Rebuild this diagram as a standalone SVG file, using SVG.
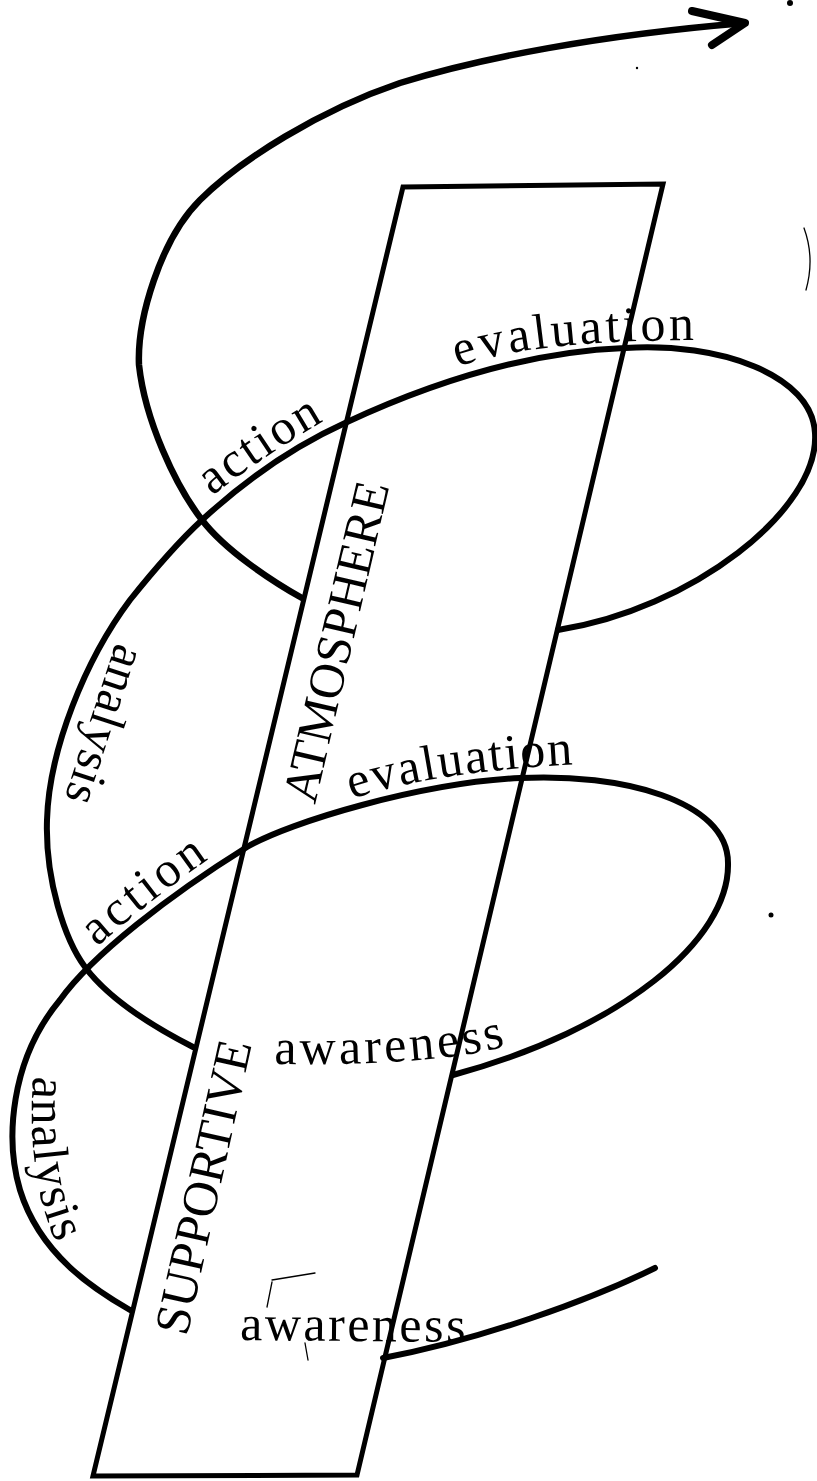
<svg xmlns="http://www.w3.org/2000/svg" width="817" height="1481" viewBox="0 0 817 1481">
<defs>
<style>
.band{fill:none;stroke:#000;stroke-width:5;stroke-linejoin:miter}
.sp{fill:none;stroke:#000;stroke-width:6;stroke-linecap:round;stroke-linejoin:round}
.thin{fill:none;stroke:#000;stroke-width:1.3;stroke-linecap:round}
.lbl{font-family:"Liberation Serif","Times New Roman",serif;font-size:50px;fill:#000}
</style>
<path id="pEvalTop" d="M 458 367 Q 530 340 702 340"/>
<path id="pEvalMid" d="M 352 799 Q 430 772 580 764"/>
<path id="pActTop" d="M 212 496 Q 265 455 327 419"/>
<path id="pActLow" d="M 97 947 Q 150 900 213 856"/>
<path id="pAnaTop" d="M 116 642 L 64 800"/>
<path id="pAnaLow" d="M 33 1076 Q 26 1180 58 1247"/>
<path id="pAwMid" d="M 274 1064 Q 440 1066 510 1045"/>
<path id="pAwLow" d="M 240 1340 L 470 1342"/>
</defs>
<rect width="817" height="1481" fill="#fff"/>

<g id="band">
<path class="band" d="M 403 187 L 663 184 L 357 1475 L 93 1476 Z"/>
</g>

<g id="spiral">
<path class="sp" d="M 655 1268 C 590 1300, 480 1340, 383 1358"/>
<path class="sp" d="M 130 1310 C 95 1290, 40 1255, 20 1190 C 5 1140, 10 1060, 60 1000 C 92 955, 170 895, 247 847 C 290 822, 420 783, 520 778 C 620 773, 728 800, 728 863 C 730 940, 620 1030, 453 1075"/>
<path class="sp" d="M 193 1047 C 150 1025, 108 998, 85 967 C 65 940, 45 880, 47 820 C 49 750, 85 660, 130 600 C 150 575, 175 545, 202 520 C 240 485, 290 448, 345 423 C 420 388, 520 352, 625 348 C 720 342, 812 375, 815 433 C 820 510, 690 610, 558 630"/>
<path class="sp" style="stroke-width:6.5" d="M 302 598 C 270 580, 225 550, 202 520 C 175 485, 145 420, 139 365 C 137 320, 160 240, 200 200 C 240 160, 320 110, 400 83 C 480 58, 600 35, 745 23"/>
<path class="sp" style="stroke-width:8" d="M 692 11 L 745 23 L 712 45"/>
</g>

<g id="labels">
<text class="lbl" letter-spacing="3.4"><textPath href="#pEvalTop">evaluation</textPath></text>
<text class="lbl" letter-spacing="1.8"><textPath href="#pEvalMid">evaluation</textPath></text>
<text class="lbl" letter-spacing="2.5"><textPath href="#pActTop">action</textPath></text>
<text class="lbl" letter-spacing="4"><textPath href="#pActLow">action</textPath></text>
<text class="lbl" letter-spacing="0.5"><textPath href="#pAnaTop">analysis</textPath></text>
<text class="lbl" letter-spacing="1.3"><textPath href="#pAnaLow">analysis</textPath></text>
<text class="lbl" letter-spacing="3.4"><textPath href="#pAwMid">awareness</textPath></text>
<text class="lbl" letter-spacing="2.5"><textPath href="#pAwLow">awareness</textPath></text>
<text class="lbl" transform="translate(315 805) rotate(-76.9)">ATMOSPHERE</text>
<text class="lbl" transform="translate(187 1337) rotate(-77.5)">SUPPORTIVE</text>
</g>

<g id="marks">
<path class="thin" d="M 804 228 Q 815 258 806 290"/>
<path class="thin" d="M 272 1280 L 315 1273 M 272 1282 L 267 1307 M 305 1343 L 308 1360"/>
<circle cx="771" cy="915" r="2.5" fill="#000"/>
<circle cx="790" cy="3" r="3" fill="#000"/>
<circle cx="637" cy="68" r="1.2" fill="#000"/>
</g>
</svg>
